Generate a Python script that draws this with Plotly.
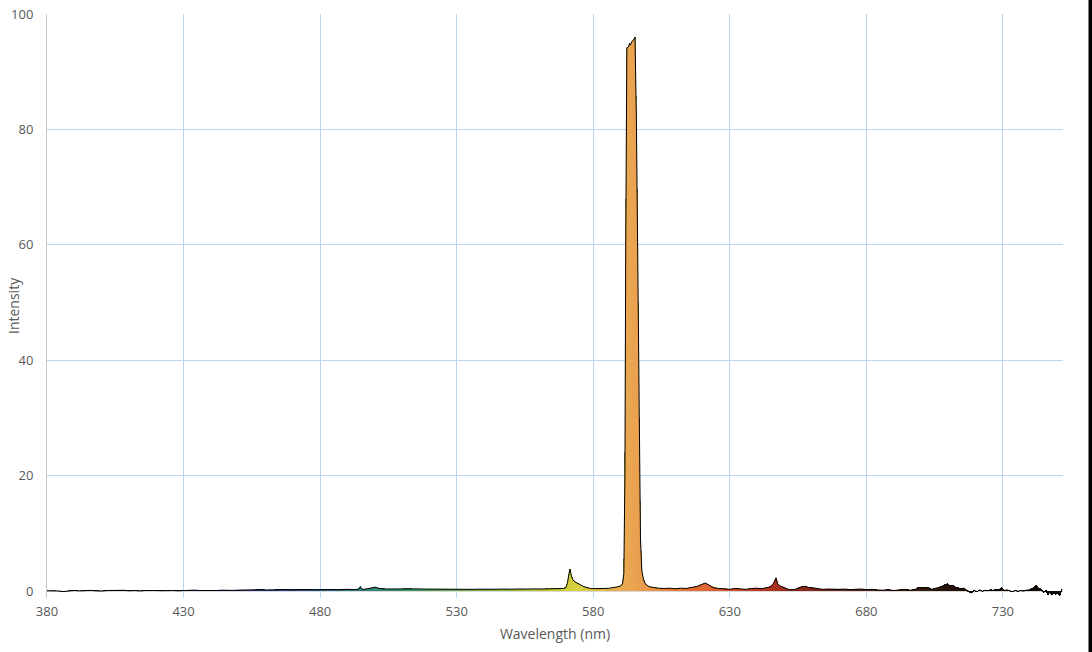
import numpy as np
import plotly.graph_objects as go

# spectrum (nm, relative intensity)
wavelength = [
    380, 382, 384, 386, 388, 390, 392, 394, 396, 398, 400, 402, 404, 406, 408, 410, 412, 414, 416, 418,
    420, 422, 424, 426, 428, 430,
    432, 434, 436, 438, 440, 442, 444, 446, 448, 450, 452, 454, 456, 458, 460, 462, 464, 466, 468, 470,
    472, 474, 476, 478, 480,
    482, 484, 486, 488, 490, 492, 494, 494.7, 495.4, 496, 498, 499, 500, 501, 502, 504, 506, 508, 510,
    512, 514, 516, 518, 520, 522, 524, 526, 528, 530,
    532, 534, 536, 538, 540, 542, 544, 546, 548, 550, 552, 554, 556, 558, 560, 562, 564, 566, 568,
    569, 570, 570.6, 571.1, 571.5, 572, 572.6, 573.3, 574, 575, 576, 577, 578, 579, 580, 582, 584, 586,
    588, 589, 590, 590.7,
    591.2, 591.6, 591.9, 592.3, 592.9, 593.3, 593.6, 594.1, 594.8, 595.3, 595.8, 596.3, 596.8, 597.3,
    597.8, 598.4, 599, 600, 601, 602, 604, 606, 608, 610, 612, 614, 616, 618, 619.5, 621, 622.5, 624,
    626, 628, 630, 632, 634, 636, 638, 640, 641.5, 643, 644.5, 645.5, 646.3, 646.9, 647.5, 648.3, 649.3,
    650.5, 652, 654, 656, 657.5, 659, 660.5, 662, 664, 666, 668, 670, 672, 674, 676, 678, 680, 682, 684,
    686, 688, 690, 692, 694, 696, 698, 699, 701, 703, 704, 706, 707, 708, 709.6, 710.5, 711.5, 712.5,
    713.5, 714.5, 715.5, 716.5, 717.5, 718.5, 719.5, 720.5, 721.5, 722.5, 723.5, 724.5, 725.5, 726.5,
    727.5, 728.5, 729.5, 730.3, 731.5, 732.5, 733.5, 734.5, 735.5, 736.5, 737.5, 738.5, 739.5, 740.5,
    741.5, 742.2, 743, 744, 745, 745.8, 746.5, 747.2, 747.9, 748.6, 749.3, 750, 750.8, 751.6,
]
intensity = [
    0.05, 0.1, 0.02, -0.08, 0.05, 0.1, 0.03, 0.08, 0.12, 0.04, 0.0, 0.1, 0.06, 0.12, 0.14, 0.05, 0.1, 0.02, 0.1, 0.15,
    0.1, 0.06, 0.14, 0.1, 0.05, 0.1,
    0.12, 0.16, 0.1, 0.06, 0.14, 0.1, 0.15, 0.2, 0.12, 0.16, 0.2, 0.15, 0.2, 0.24, 0.2, 0.16, 0.22, 0.26, 0.2, 0.22,
    0.26, 0.2, 0.25, 0.22, 0.26,
    0.25, 0.28, 0.24, 0.3, 0.3, 0.26, 0.3, 0.75, 0.32, 0.3, 0.38, 0.55, 0.68, 0.55, 0.42, 0.36, 0.38, 0.33, 0.36,
    0.4, 0.34, 0.38, 0.35, 0.33, 0.36, 0.32, 0.35, 0.3, 0.3,
    0.32, 0.28, 0.3, 0.33, 0.3, 0.28, 0.32, 0.35, 0.3, 0.33, 0.36, 0.32, 0.35, 0.38, 0.34, 0.36, 0.4, 0.38, 0.42,
    0.45, 0.6, 1.5, 3.0, 3.8, 2.6, 1.9, 1.6, 1.4, 1.1, 0.9, 0.7, 0.55, 0.45, 0.42, 0.38, 0.45, 0.5,
    0.6, 0.75, 0.9, 1.2,
    3.0, 20, 60, 94.1, 94.3, 94.9, 94.6, 95.2, 95.5, 96.0, 82, 55, 28, 9,
    3.5, 2.0, 1.3, 0.9, 0.7, 0.6, 0.5, 0.45, 0.5, 0.4, 0.5, 0.45, 0.6, 0.8, 1.1, 1.4, 1.0, 0.6,
    0.45, 0.4, 0.3, 0.45, 0.35, 0.3, 0.45, 0.5, 0.4, 0.5, 0.7, 1.0, 1.6, 2.3, 1.3, 0.9, 0.7,
    0.45, 0.2, 0.3, 0.7, 0.85, 0.6, 0.55, 0.4, 0.3, 0.35, 0.3, 0.3, 0.35, 0.25, 0.3, 0.35, 0.25, 0.3, 0.2,
    0.15, 0.25, 0.1, 0.2, 0.3, 0.15, 0.3, 0.6, 0.6, 0.55, 0.3, 0.5, 0.7, 0.9, 1.25, 0.9, 1.0, 0.7,
    0.6, 0.4, 0.5, 0.2, -0.1, -0.3, 0.1, -0.1, 0.2, -0.05, 0.15, 0.05, 0.25, 0.1,
    0.3, 0.2, 0.6, 0.1, 0.2, 0.0, -0.1, 0.1, -0.05, 0.1, 0.0, 0.15, 0.2, 0.4,
    0.6, 0.95, 0.5, 0.3, -0.2, 0.1, -0.6, -0.1, -0.7, -0.2, -0.6, -0.3, -0.8, 0.3,
]
assert len(wavelength) == len(intensity)

# fill colour stops along the spectrum
stop_nm = [380, 440, 470, 490, 510, 540, 565, 575, 585, 594, 600, 612, 630, 645, 660, 690, 720, 752]
stop_col = ['#201040', '#302080', '#2a4a9a', '#2a7a8a', '#3a9a6a', '#7ab040', '#c8c830', '#d8d040',
            '#e4b44a', '#eaa452', '#e89848', '#e87838', '#d85530', '#b03020', '#80281a', '#402010',
            '#1a0c08', '#100806']

def hex2rgb(h):
    return np.array([int(h[i:i + 2], 16) for i in (1, 3, 5)], dtype=float)

stop_rgb = np.array([hex2rgb(c) for c in stop_col])

def color_at(nm):
    r, g, b = (np.interp(nm, stop_nm, stop_rgb[:, k]) for k in range(3))
    return f"rgb({r:.0f},{g:.0f},{b:.0f})"

wl = np.array(wavelength)
it = np.array(intensity)

fig = go.Figure()

# each band fills from its start to the end; later bands paint over -> no seams
edges = np.arange(380, 754, 2)
for e in edges:
    m = wl >= e
    if m.sum() < 2:
        continue
    fig.add_trace(go.Scatter(x=wl[m], y=it[m], mode='none', fill='tozeroy',
                             fillcolor=color_at(e + 1), hoverinfo='skip', showlegend=False))

fig.add_trace(go.Scatter(x=wl, y=it, mode='lines', line=dict(color='black', width=1),
                         showlegend=False, name='Intensity'))

fnt = dict(family='Open Sans', size=13, color='#595959')
fig.update_layout(
    width=1092, height=652,
    margin=dict(l=47, r=29, t=14, b=54, autoexpand=False),
    paper_bgcolor='white', plot_bgcolor='white',
    font=fnt,
    xaxis=dict(range=[380, 752], tick0=380, dtick=50, showgrid=True, gridcolor='#bcd5ee', gridwidth=1,
               zeroline=False, showline=False, ticks='', ticklabelstandoff=4, automargin=False,
               title=dict(text='Wavelength (nm)', font=dict(size=14, color='#595959'), standoff=10)),
    yaxis=dict(range=[-1.2, 100], tickvals=[0, 20, 40, 60, 80, 100], showgrid=True, gridcolor='#bcd5ee',
               gridwidth=1, zeroline=True, zerolinecolor='#d9d9d9', zerolinewidth=1, automargin=False,
               showline=True, linecolor='#c8c8c8', linewidth=1, ticks='', ticklabelstandoff=10),
    annotations=[
        dict(text='Intensity', xref='paper', yref='paper', x=0, y=0.5, xanchor='center',
             yanchor='middle', xshift=-34, textangle=-90, showarrow=False,
             font=dict(size=14, color='#595959')),
        # dark strip along the right edge of the picture
        dict(text=' ', xref='paper', yref='paper', x=1, y=0.5, xanchor='left', yanchor='middle',
             xshift=25, width=10, height=700, bgcolor='black', borderpad=0, showarrow=False),
    ],
)

# drop the default 8px page margin so the figure sits at the window origin
fig.write_html("out.html", config={'displayModeBar': False},
               post_script="document.body.style.margin='0px';")
